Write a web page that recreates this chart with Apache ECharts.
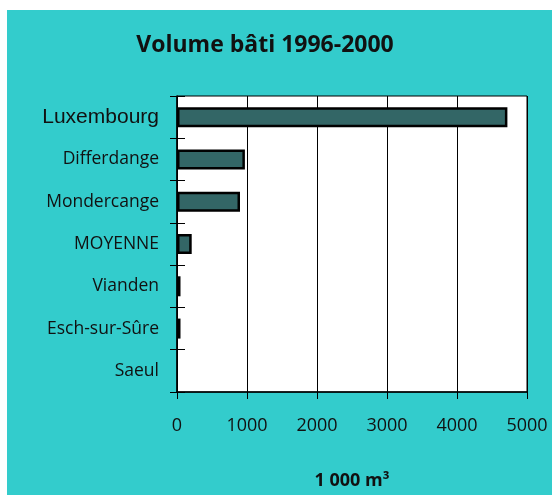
<!DOCTYPE html>
<html>
<head>
<meta charset="utf-8">
<script src="https://cdn.jsdelivr.net/npm/echarts@6/dist/echarts.min.js"></script>
<style>html,body{margin:0;padding:0;background:#fff}#c{width:552px;height:495px}</style>
</head>
<body>
<div id="c"></div>
<script>
const categories = ['Luxembourg', 'Differdange', 'Mondercange', 'MOYENNE', 'Vianden', 'Esch-sur-Sûre', 'Saeul'];
const values = [4720, 970, 900, 210, 50, 50, 0];
const xTicks = [0, 1000, 2000, 3000, 4000, 5000];

const chart = echarts.init(document.getElementById('c'));
chart.setOption({
  backgroundColor: '#ffffff',
  animation: false,
  graphic: [{
    type: 'rect', z: -10, silent: true,
    shape: { x: 7, y: 10, width: 545, height: 485 },
    style: { fill: '#33CCCC' }
  }],
  title: {
    text: 'Volume bâti 1996-2000',
    left: 260, top: 29, textAlign: 'center',
    textStyle: { fontFamily: 'Open Sans', fontWeight: 'bold', fontSize: 23, color: '#111' }
  },
  grid: {
    left: 177, top: 96, right: 25, bottom: 103,
    show: true, backgroundColor: '#ffffff', borderColor: '#000', borderWidth: 1
  },
  xAxis: {
    type: 'value', min: xTicks[0], max: xTicks[xTicks.length - 1], interval: 1000,
    axisLine: { show: true, lineStyle: { color: '#000', width: 1.5 } },
    axisTick: { show: true, length: 7, lineStyle: { color: '#000' } },
    splitLine: { show: true, lineStyle: { color: '#000', width: 1 } },
    axisLabel: { fontFamily: 'Open Sans', fontSize: 18, color: '#111', margin: 25,
      formatter: function (v) { return String(v); } },
    name: '1 000 m³', nameLocation: 'middle', nameGap: 80,
    nameTextStyle: { fontFamily: 'Open Sans', fontWeight: 'bold', fontSize: 18, color: '#111' }
  },
  yAxis: [{
    type: 'category', data: categories, inverse: true,
    axisLine: { show: true, lineStyle: { color: '#000', width: 1.5 } },
    axisTick: { show: true, length: 7, lineStyle: { color: '#000' } },
    axisLabel: {
      margin: 18, color: '#111',
      formatter: function (v) { return v === 'Luxembourg' ? '{big|' + v + '}' : '{n|' + v + '}'; },
      rich: {
        big: { fontFamily: 'Liberation Sans', fontSize: 21, color: '#111' },
        n: { fontFamily: 'Open Sans', fontSize: 17.5, color: '#111' }
      }
    }
  }, {
    type: 'category', data: categories, inverse: true, position: 'left',
    axisLine: { show: false },
    axisTick: { show: true, inside: true, length: 8, lineStyle: { color: '#000' } },
    axisLabel: { show: false }
  }],
  series: [{
    type: 'bar', barWidth: 20,
    data: values.map(function (v) { return v === 0 ? { value: v, itemStyle: { borderWidth: 0 } } : v; }),
    itemStyle: { color: '#336666', borderColor: '#000', borderWidth: 2.5 }
  }]
});
</script>
</body>
</html>
